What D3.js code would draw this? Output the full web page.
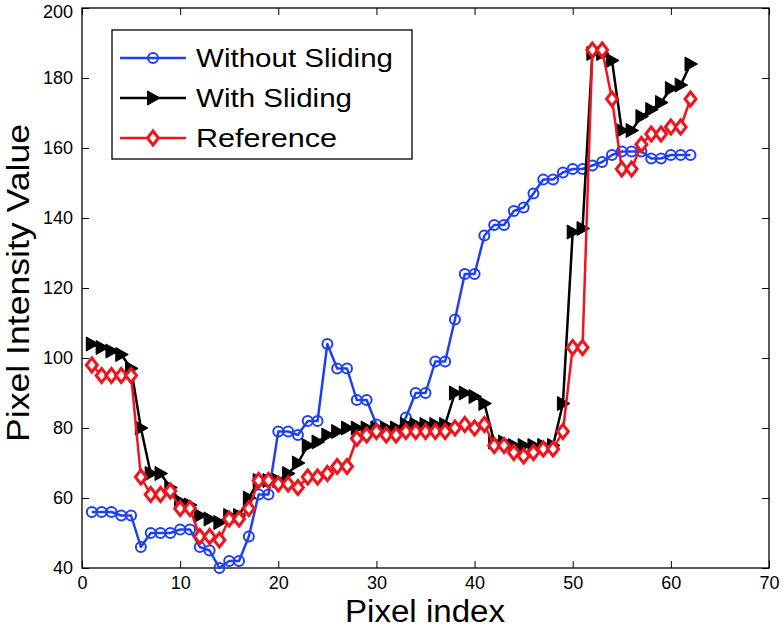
<!DOCTYPE html>
<html>
<head>
<meta charset="utf-8">
<script src="https://cdn.jsdelivr.net/npm/d3@7"></script>
<style>
  body { margin: 0; background: #fff; }
  svg { display: block; font-family: "Liberation Sans", Arial, sans-serif; }
</style>
</head>
<body>
<svg id="chart" width="783" height="631"></svg>
<script>
const pixelIndex = [1,2,3,4,5,6,7,8,9,10,11,12,13,14,15,16,17,18,19,20,21,22,23,24,25,26,27,28,29,30,31,32,33,34,35,36,37,38,39,40,41,42,43,44,45,46,47,48,49,50,51,52,53,54,55,56,57,58,59,60,61,62];

const withoutSliding = [56,56,56,55,55,46,50,50,50,51,51,46,45,40,42,42,49,61,61,79,79,78,82,82,104,97,97,88,88,81,79,79,83,90,90,99,99,111,124,124,135,138,138,142,143,147,151,151,153,154,154,155,156,158,159,159,159,157,157,158,158,158];

const withSliding = [104,103,102,101,97,80,67,67,63,59,58,55,54,53,55,55,60,65,65,65,67,70,75,76,78,79,80,80,80,80,80,80,81,81,81,81,81,90,90,89,87,76,76,75,75,75,75,75,87,136,137,187,187,185,165,165,169,171,173,177,178,184];

const reference = [98,95,95,95,95,66,61,61,62,57,57,49,49,48,54,54,57,65,65,64,64,63,66,66,67,69,69,77,78,79,78,78,79,79,79,79,79,80,81,80,81,75,75,73,72,73,74,74,79,103,103,188,188,174,154,154,161,164,164,166,166,174];

const seriesNames = ["Without Sliding", "With Sliding", "Reference"];
const seriesColors = ["#2040f0", "#000000", "#f0141e"];
const xTicks = [0,10,20,30,40,50,60,70];
const yTicks = [40,60,80,100,120,140,160,180,200];
const xLabel = "Pixel index";
const yLabel = "Pixel Intensity Value";

const W = 783, H = 631;
const m = { left: 82, top: 8, right: 14, bottom: 63 };
const svg = d3.select("#chart");

const x = d3.scaleLinear().domain([0, 70]).range([m.left, W - m.right]);
const y = d3.scaleLinear().domain([40, 200]).range([H - m.bottom, m.top]);

const tickLen = 7;
// axes
svg.append("g").attr("transform", `translate(0,${H - m.bottom})`)
  .call(d3.axisBottom(x).tickValues(xTicks).tickSizeInner(-tickLen).tickSizeOuter(0).tickPadding(8))
  .call(g => g.select(".domain").remove())
  .call(g => g.selectAll("text").attr("font-size", 18).attr("fill", "#000").attr("font-family", "Liberation Sans, Arial, sans-serif"))
  .call(g => g.selectAll("line").attr("stroke", "#000"));
svg.append("g").attr("transform", `translate(${m.left},0)`)
  .call(d3.axisLeft(y).tickValues(yTicks).tickSizeInner(-tickLen).tickSizeOuter(0).tickPadding(9))
  .call(g => g.select(".domain").remove())
  .call(g => g.selectAll("text").attr("font-size", 18).attr("fill", "#000").attr("font-family", "Liberation Sans, Arial, sans-serif")
    .attr("dy", d => d === 200 ? "0.5em" : "0.32em"))
  .call(g => g.selectAll("line").attr("stroke", "#000"));
svg.append("g").attr("transform", `translate(0,${m.top})`)
  .call(d3.axisTop(x).tickValues(xTicks).tickSizeInner(-tickLen).tickSizeOuter(0).tickFormat(""))
  .call(g => g.select(".domain").remove());
svg.append("g").attr("transform", `translate(${W - m.right},0)`)
  .call(d3.axisRight(y).tickValues(yTicks).tickSizeInner(-tickLen).tickSizeOuter(0).tickFormat(""))
  .call(g => g.select(".domain").remove());

svg.append("rect")
  .attr("x", m.left).attr("y", m.top)
  .attr("width", W - m.left - m.right).attr("height", H - m.top - m.bottom)
  .attr("fill", "none").attr("stroke", "#000").attr("stroke-width", 1.3);

// axis titles
svg.append("text").attr("x", 425).attr("y", 622).attr("text-anchor", "middle")
  .attr("font-size", 31).attr("textLength", 160).attr("lengthAdjust", "spacingAndGlyphs").text(xLabel);
svg.append("text").attr("transform", "translate(29,283) rotate(-90)").attr("text-anchor", "middle")
  .attr("font-size", 31).attr("textLength", 318).attr("lengthAdjust", "spacingAndGlyphs").text(yLabel);

// markers
const markerFns = [
  (g, c) => g.append("circle").attr("r", 5).attr("fill", "none").attr("stroke", c).attr("stroke-width", 2),
  (g, c) => g.append("path").attr("d", "M-5.5,-7L7,0L-5.5,7Z").attr("fill", c).attr("stroke", c).attr("stroke-width", 1),
  (g, c) => g.append("path").attr("d", "M0,-7L5.5,0L0,7L-5.5,0Z").attr("fill", "#fff").attr("stroke", c).attr("stroke-width", 3)
];

const allSeries = [withoutSliding, withSliding, reference];
const line = d3.line().x((d, i) => x(pixelIndex[i])).y(d => y(d));

allSeries.forEach((vals, si) => {
  const g = svg.append("g");
  g.append("path").datum(vals).attr("d", line).attr("fill", "none")
    .attr("stroke", seriesColors[si]).attr("stroke-width", 2.5).attr("stroke-linejoin", "round");
  vals.forEach((v, i) => {
    const mg = g.append("g").attr("transform", `translate(${x(pixelIndex[i])},${y(v)})`);
    markerFns[si](mg, seriesColors[si]);
  });
});

// legend
const lg = svg.append("g");
lg.append("rect").attr("x", 112).attr("y", 30).attr("width", 300).attr("height", 129)
  .attr("fill", "#fff").attr("stroke", "#000").attr("stroke-width", 1.3);
const legendY = [58, 98, 138];
const legendLen = [197, 156, 141];
seriesNames.forEach((name, si) => {
  const yy = legendY[si];
  lg.append("line").attr("x1", 120).attr("x2", 186).attr("y1", yy).attr("y2", yy)
    .attr("stroke", seriesColors[si]).attr("stroke-width", 2.5);
  const mg = lg.append("g").attr("transform", `translate(153,${yy})`);
  markerFns[si](mg, seriesColors[si]);
  lg.append("text").attr("x", 196).attr("y", yy + 9).attr("font-size", 26)
    .attr("textLength", legendLen[si]).attr("lengthAdjust", "spacingAndGlyphs").text(name);
});
</script>
</body>
</html>
